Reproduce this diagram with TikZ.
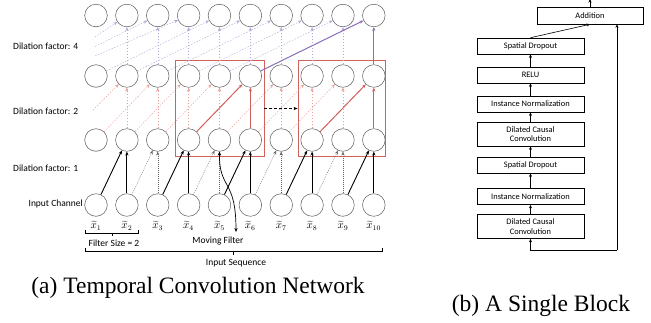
\documentclass[tikz,border=0pt]{standalone}
\usepackage{fontspec}
\setmainfont{Liberation Serif}
\newfontfamily\lbl{Carlito}
\newfontfamily\capf{Liberation Serif}
\usetikzlibrary{arrows.meta}
\definecolor{purS}{HTML}{8B6DB8}
\definecolor{purL}{HTML}{B8A6DA}
\definecolor{redS}{HTML}{CF5F58}
\definecolor{redL}{HTML}{EC9F99}
\definecolor{boxR}{HTML}{D0625C}
\definecolor{cgray}{HTML}{5A5A5A}
\tikzset{
  x=1pt,y=-1pt,
  cir/.style={circle,draw=cgray,line width=0.5pt,minimum size=22.6pt,inner sep=0pt},
  tip/.style={-{Stealth[length=4pt,width=3.2pt]}},
  blk/.style={tip,black,line width=0.9pt},
  blkd/.style={tip,black!60,line width=0.35pt,dash pattern=on 1pt off 1pt},
  rs/.style={tip,redS,line width=1pt},
  rd/.style={tip,redL,line width=0.45pt,dash pattern=on 1.5pt off 1.5pt},
  ps/.style={tip,purS,line width=1pt},
  pd/.style={tip,purL,line width=0.45pt,dash pattern=on 1.5pt off 1.5pt},
  lab/.style={font=\lbl\fontsize{9.5}{10}\selectfont,inner sep=0pt},
  bx/.style={draw=black,line width=0.6pt,minimum width=107pt,inner sep=0pt,align=center,font=\lbl\fontsize{8.4}{9.5}\selectfont},
  ba/.style={-{Stealth[length=3.5pt,width=3pt]},black,line width=0.6pt},
  captxt/.style={inner sep=0pt,font=\capf\fontsize{23.5}{25}\selectfont},
}
\begin{document}
\begin{tikzpicture}
\useasboundingbox (0,0) rectangle (651,322);
% circles
\foreach \r/\y in {1/15.5,2/76,3/140,4/205}{
  \foreach \j in {1,...,10}{
    \node[cir] (n\r-\j) at ({96+(\j-1)*30.87},\y) {};
  }
}
% red boxes
\node[draw=boxR,line width=0.9pt,minimum width=89pt,minimum height=96pt,inner sep=0pt] (box1) at (219.5,108.5) {};
\node[draw=boxR,line width=0.9pt,minimum width=87pt,minimum height=96pt,inner sep=0pt] (box2) at (341.5,108.5) {};
\draw[-{Stealth[length=4pt,width=3.2pt]},black,line width=0.8pt,dash pattern=on 3pt off 2pt] (box1.east) -- (box2.west);
% dilation 1
\foreach \j [evaluate=\j as \p using int(\j-1)] in {2,4,6,8,10}{
  \draw[blk] (n4-\p) -- (n3-\j);
  \draw[blk] (n4-\j) -- (n3-\j);
}
\foreach \j [evaluate=\j as \p using int(\j-1)] in {3,5,7,9}{
  \draw[blkd] (n4-\p) -- (n3-\j);
  \draw[blkd] (n4-\j) -- (n3-\j);
}
% dilation 2
\coordinate (t2) at (93,110);
\draw[rd] (t2) -- (n2-2);
\foreach \j [evaluate=\j as \p using int(\j-2)] in {3,4,5,7,8,9}{
  \draw[rd] (n3-\p) -- (n2-\j);
}
\foreach \j in {2,3,4,5,7,8,9}{
  \draw[rd] (n3-\j) -- (n2-\j);
}
\draw[rs] (n3-4) -- (n2-6);
\draw[rs] (n3-6) -- (n2-6);
\draw[rs] (n3-8) -- (n2-10);
\draw[rs] (n3-10) -- (n2-10);
% dilation 4
\coordinate (q2) at (95,37);
\coordinate (q3) at (95,46.5);
\coordinate (q4) at (95,56);
\foreach \j in {2,3,4}{
  \draw[pd] (q\j) -- (n1-\j);
}
\foreach \j [evaluate=\j as \p using int(\j-4)] in {5,6,7,8,9}{
  \draw[pd] (n2-\p) -- (n1-\j);
}
\foreach \j in {2,...,9}{
  \draw[pd] (n2-\j) -- (n1-\j);
}
\draw[ps] (n2-6) -- (n1-10);
\draw[ps] (n2-10) -- (n1-10);
% labels
\node[lab,anchor=west] (d4) at (13,46) {Dilation factor: 4};
\node[lab,anchor=west] (d2) at (13,111) {Dilation factor: 2};
\node[lab,anchor=west] (d1) at (13,168) {Dilation factor: 1};
\node[lab,anchor=east] (ic) at (83,204) {Input Channel};
\foreach \j in {1,...,10}{
  \node[inner sep=0pt,font=\fontsize{10.5}{10.5}\selectfont] (x\j) at ({96+(\j-1)*30.87},226) {$\widetilde{x}_{\j}$};
}
% braces
\coordinate (fa) at (85,230); \coordinate (fb) at (138,230);
\coordinate (fm) at (112,236);
\draw[line width=0.6pt] (fa) -- (85,233) -- (138,233) -- (fb);
\draw[line width=0.6pt] (112,233) -- (fm);
\node[lab] (fs) at (114,243) {Filter Size = 2};
\coordinate (sa) at (85,248); \coordinate (sb) at (382,248);
\draw[line width=0.6pt] (sa) -- (85,251) -- (382,251) -- (sb);
\draw[line width=0.6pt] (233,251) -- (233,254.5);
\node[lab] (is) at (236,263) {Input Sequence};
\node[lab] (mf) at (218,241) {Moving Filter};
\coordinate (mfe) at (236,232);
\draw[{Stealth[length=4pt,width=3.2pt]}-{Stealth[length=4pt,width=3.2pt]},black,line width=0.7pt] (n3-5.south) .. controls (219,190) and (236,178) .. (mfe);
% captions
\node[captxt] (capa) at (198,288) {(a) Temporal Convolution Network};
\node[captxt] (capb) at (541,306) {(b) A Single Block};
% right block
\node[bx,minimum width=106pt,minimum height=17pt] (add) at (590,15.5) {Addition};
\node[bx,minimum height=16pt] (sd1) at (530.5,46) {Spatial Dropout};
\node[bx,minimum height=16pt] (relu) at (530.5,75) {RELU};
\node[bx,minimum height=16pt] (in1) at (530.5,104) {Instance Normalization};
\node[bx,minimum height=24pt] (dc1) at (530.5,134) {Dilated Causal\\Convolution};
\node[bx,minimum height=16pt] (sd2) at (530.5,165) {Spatial Dropout};
\node[bx,minimum height=16pt] (in2) at (530.5,196.5) {Instance Normalization};
\node[bx,minimum height=24pt] (dc2) at (530.5,226.5) {Dilated Causal\\Convolution};
\draw[ba] (dc2) -- (in2);
\draw[ba] (in2) -- (sd2);
\draw[ba] (sd2) -- (dc1);
\draw[ba] (dc1) -- (in1);
\draw[ba] (in1) -- (relu);
\draw[ba] (relu) -- (sd1);
\draw[ba] (sd1.north) -- (add.south);
\coordinate (outp) at (590,-1);
\draw[ba] (add) -- (outp);
\coordinate (cin) at (530.5,250);
\coordinate (csk) at (617,250);
\draw[ba] (csk) -- (add.south -| csk);
\draw[ba] (csk) -- (cin) -- (dc2);
\end{tikzpicture}
\end{document}
